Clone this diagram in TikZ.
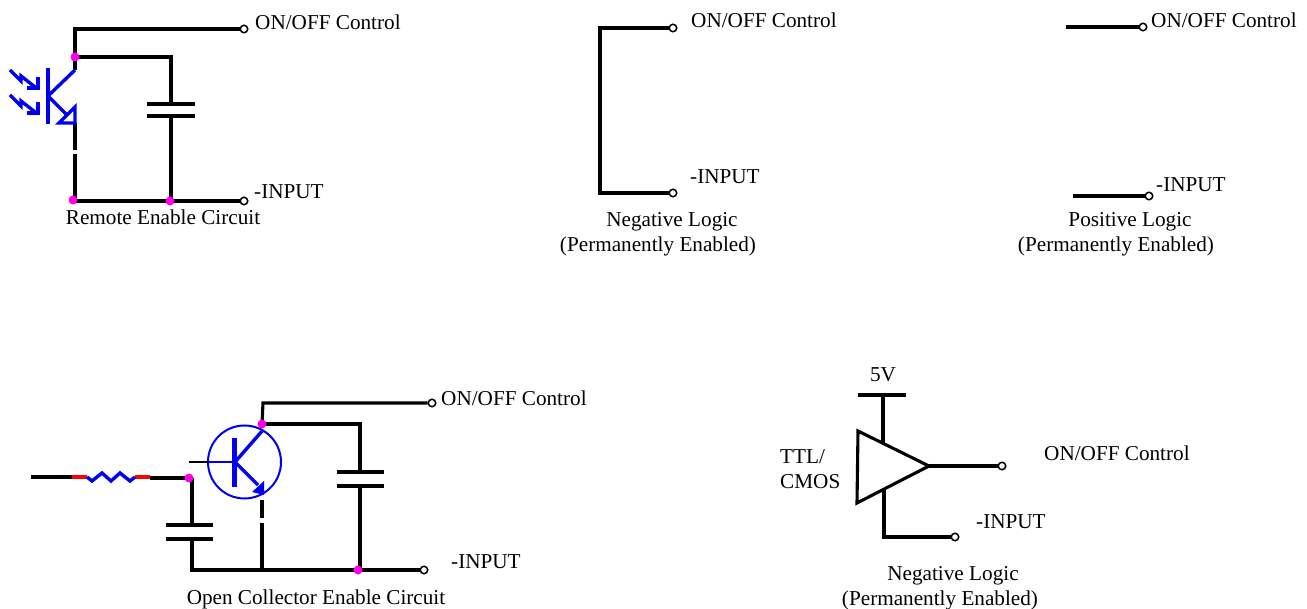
\documentclass[tikz,border=0pt]{standalone}
\usepackage{fontspec}
\setmainfont{Liberation Serif}
\usetikzlibrary{backgrounds}
\definecolor{blu}{RGB}{0,0,240}
\definecolor{mag}{RGB}{255,0,230}
\tikzset{
 wire/.style={line width=3.1pt,black},
 bwire/.style={line width=3.4pt,blu},
 term/.style={circle,draw=black,fill=white,line width=1.5pt,minimum size=7.5pt,inner sep=0pt},
 dotm/.style={circle,fill=mag,minimum size=9pt,inner sep=0pt},
 lab/.style={font=\fontsize{21.2}{25}\selectfont,inner sep=0pt,anchor=west,align=left},
 captxt/.style={font=\fontsize{21.2}{25}\selectfont,inner sep=0pt,align=center},
}
\begin{document}
\begin{tikzpicture}[x=1pt,y=-1pt]
\useasboundingbox (0,0) rectangle (1307,609);
% --- Remote enable
\coordinate (a1) at (75,29);
\node[term] (t1) at (244,29) {};
\node[term] (t2) at (244,201) {};
\node[dotm] (d1) at (75,57) {};
\node[dotm] (d2) at (73,200) {};
\node[dotm] (d3) at (170,201) {};
\coordinate (c1a) at (171,104); \coordinate (c1b) at (171,116);
\begin{scope}[on background layer]
\draw[wire] (d1.center) -- (a1) -- (t1.west);
\draw[wire] (d1.center) -- (171,57) -- (c1a);
\draw[wire] (147,104) -- (195,104);
\draw[wire] (147,116) -- (195,116);
\draw[wire] (c1b) -- (171,201);
\draw[wire] (d2.center |- t2.west) -- (t2.west);
\draw[wire] (75,123) -- (75,150);
\draw[wire] (75,154) -- (75,200);
\draw[wire] (75,57) -- (75,70);
\draw[bwire] (75,70) -- (48,96) -- (72,120);
\draw[bwire] (48,68) -- (48,124);
\draw[bwire,fill=white] (59,123) -- (75,107) -- (75,123) -- cycle;
\foreach \y in {0,25}{
 \draw[bwire] (10,\y+70) -- (21,\y+81) -- (21,\y+76) -- (35,\y+87);
 \draw[blu,line width=4pt] (27,\y+88) -- (38,\y+88) -- (38,\y+77);
}
\end{scope}
\node[lab] at (255,22) {ON/OFF Control};
\node[lab] at (254,192) {-INPUT};
\node[captxt] at (163,217) {Remote Enable Circuit};
% --- Negative logic
\node[term] (t3) at (673,28) {};
\node[term] (t4) at (673,193) {};
\coordinate (n1) at (600,28); \coordinate (n2) at (600,193);
\draw[wire] (t3.west) -- (n1) -- (n2) -- (t4.west);
\node[lab] at (691,20) {ON/OFF Control};
\node[lab] at (690,177) {-INPUT};
\node[captxt] at (658,234) {\hspace*{28pt}Negative Logic\\(Permanently Enabled)};
% --- Positive logic
\node[term] (t5) at (1143,27) {};
\node[term] (t6) at (1149,196) {};
\coordinate (p1) at (1066,27); \coordinate (p2) at (1073,196);
\draw[wire] (p1) -- (t5.west);
\draw[wire] (p2) -- (t6.west);
\node[lab] at (1151,20) {ON/OFF Control};
\node[lab] at (1156,185) {-INPUT};
\node[captxt] at (1116,234) {\hspace*{28pt}Positive Logic\\(Permanently Enabled)};
% --- Open collector
\node[term] (t7) at (432,403) {};
\node[term] (t8) at (424,570) {};
\node[dotm] (d4) at (262,424) {};
\node[dotm] (d5) at (189,478) {};
\node[dotm] (d6) at (358,570) {};
\begin{scope}[on background layer]
\draw[wire] (d4.center) -- (263,403) -- (t7.west);
\draw[wire] (d4.center) -- (360,424) -- (360,471);
\draw[wire] (337,472) -- (384,472);
\draw[wire] (337,486) -- (384,486);
\draw[wire] (360,486) -- (360,570);
\draw[wire] (31,477) -- (72,477);
\draw[wire] (150,478) -- (d5.center);
\draw[line width=3.1pt,red] (72,477) -- (87,477);
\draw[line width=3.1pt,red] (135,477) -- (150,477);
\draw[bwire] (87,477) -- (92,481) -- (102,473) -- (111,481) -- (120,473) -- (130,481) -- (135,477);
\draw[wire] (192,478) -- (192,525);
\draw[wire] (166,525) -- (213,525);
\draw[wire] (166,539) -- (213,539);
\draw[wire] (192,539) -- (192,570) -- (t8.west);
\draw[wire] (262,500) -- (262,518);
\draw[wire] (262,523) -- (262,570);
\draw[blu,line width=2pt] (244.5,462) circle (36.5);
\draw[line width=2pt] (189,462) -- (208,462);
\draw[blu,line width=2pt] (208,462) -- (234,462);
\draw[blu,line width=5pt] (234,438) -- (234,487);
\draw[bwire] (235,462) -- (263,430);
\draw[bwire] (235,462) -- (258,485);
\fill[blu] (252,492) -- (264,481) -- (264,495) -- cycle;
\end{scope}
\node[lab] at (441,398) {ON/OFF Control};
\node[lab] at (451,562) {-INPUT};
\node[captxt] at (316,599) {Open Collector Enable Circuit};
% --- TTL/CMOS
\node[term] (t9) at (1002,466) {};
\node[term] (t10) at (955,537) {};
\coordinate (tp) at (929,466);
\begin{scope}[on background layer]
\draw[wire] (858,431) -- (tp) -- (857,503) -- cycle;
\draw[wire] (tp) -- (t9.west);
\draw[wire] (883,395) -- (883,443);
\draw[wire] (858,395) -- (906,395);
\draw[wire] (884,490) -- (884,537) -- (t10.west);
\end{scope}
\node[captxt,anchor=south] at (883,382) {5V};
\node[lab] at (780,469) {TTL/\\CMOS};
\node[lab] at (1044,453) {ON/OFF Control};
\node[lab] at (976,522) {-INPUT};
\node[captxt] at (940,588) {\hspace*{26pt}Negative Logic\\(Permanently Enabled)};
\end{tikzpicture}
\end{document}
